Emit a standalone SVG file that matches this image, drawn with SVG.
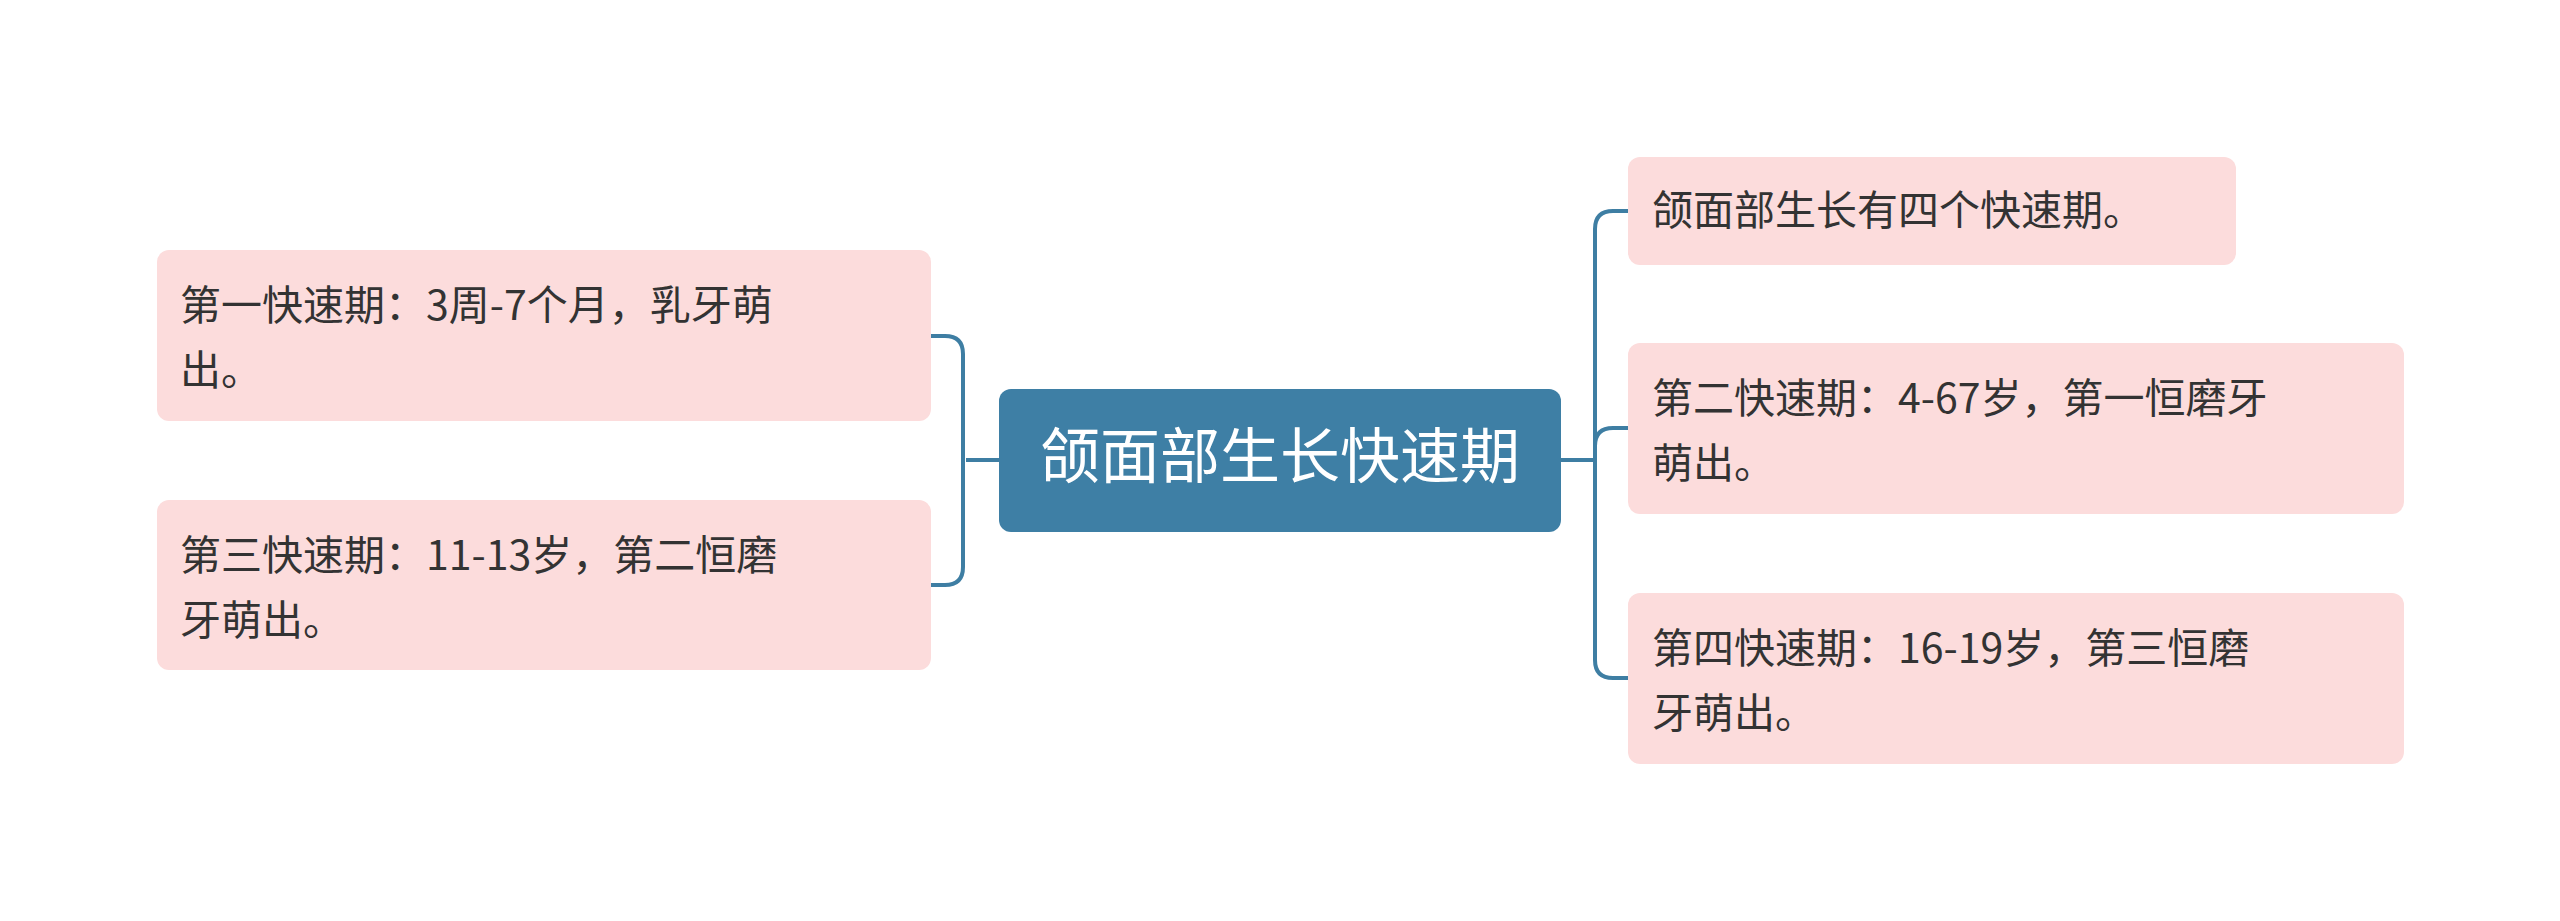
<svg xmlns="http://www.w3.org/2000/svg" width="2560" height="921" viewBox="0 0 2560 921">
<style>
.n{fill:#fcdcdc}
.t{font-family:"Noto Sans CJK SC","Noto Sans",sans-serif;font-size:41px;fill:#333}
.c{fill:none;stroke:#3e7ea3;stroke-width:4}
</style>
<rect width="2560" height="921" fill="#fff"/>
<g id="connectors">
<path class="c" d="M999 460 H966 M931 336 H945 Q963 336 963 354 V567 Q963 585 945 585 H931"/>
<path class="c" d="M1561 460 H1595 M1628 211 H1613 Q1595 211 1595 229 V660 Q1595 678 1613 678 H1628 M1595 428 Q1595 428 1595 446 M1595 446 Q1595 428 1613 428 H1628"/>
</g>
<g id="center"><rect x="999" y="389" width="562" height="143" rx="12" fill="#3e7fa5"/><text x="1280" y="478" text-anchor="middle" font-family="Noto Sans CJK SC,sans-serif" font-size="60" fill="#fff">颌面部生长快速期</text></g>
<g id="l1"><rect class="n" x="157" y="250" width="774" height="171" rx="12"/><text class="t" x="180" y="320">第一快速期：3周-7个月，乳牙萌</text><text class="t" x="180" y="385">出。</text></g>
<g id="l2"><rect class="n" x="157" y="500" width="774" height="170" rx="12"/><text class="t" x="180" y="570">第三快速期：11-13岁，第二恒磨</text><text class="t" x="180" y="635">牙萌出。</text></g>
<g id="r1"><rect class="n" x="1628" y="157" width="608" height="108" rx="12"/><text class="t" x="1652" y="225">颌面部生长有四个快速期。</text></g>
<g id="r2"><rect class="n" x="1628" y="343" width="776" height="171" rx="12"/><text class="t" x="1652" y="413">第二快速期：4-67岁，第一恒磨牙</text><text class="t" x="1652" y="478">萌出。</text></g>
<g id="r3"><rect class="n" x="1628" y="593" width="776" height="171" rx="12"/><text class="t" x="1652" y="663">第四快速期：16-19岁，第三恒磨</text><text class="t" x="1652" y="728">牙萌出。</text></g>
</svg>
